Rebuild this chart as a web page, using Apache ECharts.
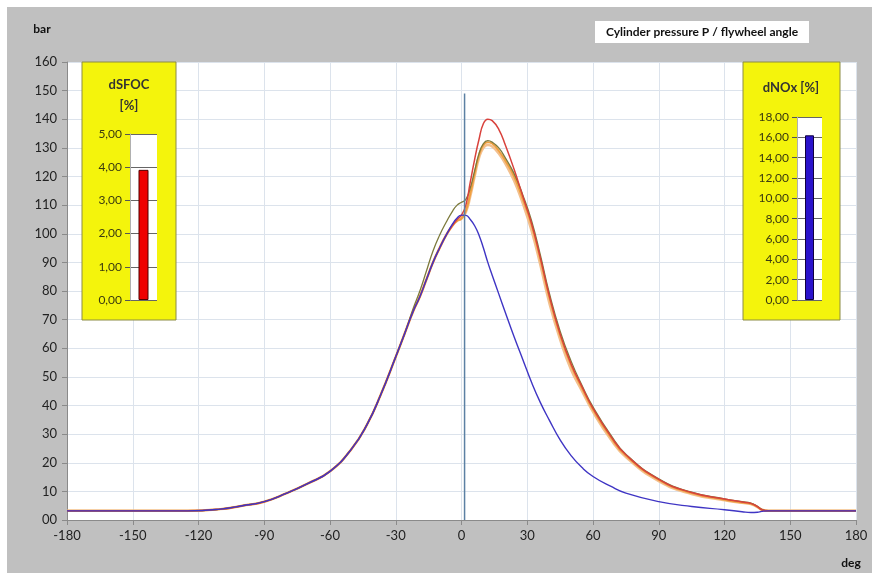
<!DOCTYPE html>
<html lang="en">
  <head>
    <meta charset="UTF-8" />
    <title>Cylinder pressure P / flywheel angle</title>
    <script src="https://cdn.jsdelivr.net/npm/echarts@6/dist/echarts.min.js"></script>
    <style>
      body {
        margin: 0;
        background-color: #ffffff;
      }
      #bg {
        position: absolute;
        left: 7px;
        top: 7px;
        width: 865px;
        height: 566px;
        background-color: #c0c0c0;
      }
      #chart {
        position: absolute;
        left: 0;
        top: 0;
        width: 879px;
        height: 580px;
      }
    </style>
  </head>
  <body>
    <div id="bg"></div>
    <div id="chart"></div>
    <script>
      // crank angles (deg) shared by all pressure curves
      var angles = [-180, -150, -125, -110, -100, -90, -80, -70, -60, -50, -43, -37, -30, -26, -22,
        -19, -16, -13, -10, -7, -4, -2, 0, 2, 4, 6, 8, 10, 12, 14, 17, 20, 24, 28, 32, 36, 40,
        45, 50, 55, 60, 68, 75, 90, 105, 120, 128, 132, 135, 137, 140, 160, 180];

      // pressure curves (bar)
      var pOlive = [3.2, 3.2, 3.2, 3.8, 5.0, 6.4, 9.3, 12.8, 17, 25, 33.5, 43.5, 57, 65, 74,
        80, 87, 94, 99.5, 104, 108, 110, 111, 112, 116, 122, 128, 131.5, 132.5, 132, 130, 126.5, 121, 113.5, 104.5, 92.5, 79.5,
        66, 55.5, 47, 39.5, 29.8, 23, 14.4, 9.7, 7.4, 6.4, 5.9, 4.8, 3.7, 3.2, 3.2, 3.2];
      var pOrange = [3.2, 3.2, 3.2, 3.8, 5.0, 6.4, 9.3, 12.8, 17, 25, 33.5, 43.5, 57, 65, 73,
        78, 84, 90, 95, 99.5, 103, 104.5, 105.3, 108, 114, 121, 127.5, 131, 132, 131.5, 129, 125.5, 120, 112, 103, 91, 78,
        64.5, 54, 46, 38.6, 29, 22.5, 14, 9.4, 7.1, 6.1, 5.7, 4.6, 3.6, 3.2, 3.2, 3.2];
      var pTan = [3.2, 3.2, 3.2, 3.8, 5.0, 6.4, 9.3, 12.8, 17, 25, 33.5, 43.5, 57, 65, 73,
        78, 84, 90, 95, 99.5, 103, 104.5, 105.3, 107.5, 113, 120, 126.5, 130, 131, 130.5, 128, 124.5, 118.5, 110.5, 101, 89, 76,
        63, 52.5, 45, 37.8, 28.3, 22, 13.6, 9.1, 6.9, 6.0, 5.6, 4.5, 3.6, 3.2, 3.2, 3.2];
      var pRed = [3.2, 3.2, 3.2, 3.8, 5.0, 6.4, 9.3, 12.8, 17, 25, 33.5, 43.5, 57, 65, 73,
        78, 84, 90, 95, 99.5, 103, 105, 106.5, 110, 118, 126, 133, 138.5, 140, 139.5, 136.5, 131, 122.5, 113, 103.5, 91.5, 78.5,
        65, 54.5, 46.5, 39, 29.4, 22.8, 14.2, 9.6, 7.3, 6.3, 5.8, 4.7, 3.6, 3.2, 3.2, 3.2];
      var pBlue = [3.2, 3.2, 3.2, 3.8, 5.0, 6.4, 9.3, 12.8, 17, 25, 33.5, 43.5, 57, 65, 73,
        78, 84, 90, 95, 99.5, 103.5, 105.5, 106.5, 106.4, 105, 102.8, 99.5, 95, 90, 85.5, 79, 72.5, 64, 56, 48, 41, 35,
        28, 22.5, 18.3, 15.2, 11.8, 9.4, 6.4, 4.7, 3.6, 2.9, 2.6, 2.7, 3.0, 3.2, 3.2, 3.2];

      // TDC marker line
      var tdcX = [1.4, 1.4];
      var tdcY = [0, 149];

      // gauges
      var sfocCat = ["dSFOC"];
      var sfocVal = [3.92];
      var noxCat = ["dNOx"];
      var noxVal = [16.2];

      var font = "Lato, 'Open Sans', sans-serif";

      function pairs(xs, ys) {
        return xs.map(function (x, i) {
          return [x, ys[i]];
        });
      }

      function comma(v) {
        return v.toFixed(2).replace(".", ",");
      }

      function curve(name, vals, color, width, z) {
        return {
          name: name,
          type: "line",
          data: pairs(angles, vals),
          showSymbol: false,
          smooth: 0.5,
          lineStyle: { color: color, width: width },
          z: z,
        };
      }

      const chart = echarts.init(document.getElementById("chart"));

      const options = {
        animation: false,
        textStyle: { fontFamily: font },
        grid: [
          { left: 67, top: 62, width: 789, height: 458, show: true, backgroundColor: "#ffffff", borderWidth: 0 },
          { left: 130, top: 134, width: 27, height: 166, show: true, backgroundColor: "#ffffff", borderWidth: 0, z: 6 },
          { left: 797, top: 117, width: 25, height: 183, show: true, backgroundColor: "#ffffff", borderWidth: 0, z: 6 },
        ],
        xAxis: [
          {
            type: "value",
            min: -180,
            max: 180,
            interval: 30,
            axisLine: { onZero: false, lineStyle: { color: "#8a8a8a" } },
            axisTick: { show: true, length: 5, lineStyle: { color: "#8a8a8a" } },
            axisLabel: { color: "#222", fontSize: 13, margin: 9 },
            splitLine: { lineStyle: { color: "#dce3ec" } },
          },
          {
            type: "category",
            gridIndex: 1,
            data: sfocCat,
            axisLine: { show: false },
            axisTick: { show: false },
            axisLabel: { show: false },
            z: 7,
          },
          {
            type: "category",
            gridIndex: 2,
            data: noxCat,
            axisLine: { show: false },
            axisTick: { show: false },
            axisLabel: { show: false },
            z: 7,
          },
        ],
        yAxis: [
          {
            type: "value",
            min: 0,
            max: 160,
            interval: 10,
            axisLine: { show: true, onZero: false, lineStyle: { color: "#8a8a8a" } },
            axisTick: { show: true, length: 5, lineStyle: { color: "#8a8a8a" } },
            axisLabel: {
              color: "#222",
              fontSize: 13,
              margin: 10,
              formatter: function (v) {
                return v === 0 ? "00" : v;
              },
            },
            splitLine: { lineStyle: { color: "#dce3ec" } },
          },
          {
            type: "value",
            gridIndex: 1,
            min: 0,
            max: 5,
            interval: 1,
            axisLine: { show: true, onZero: false, lineStyle: { color: "#b0b0b0" } },
            axisTick: { show: true, length: 5, lineStyle: { color: "#555" } },
            axisLabel: { color: "#3a3a10", fontSize: 12, margin: 8, formatter: comma },
            splitLine: { lineStyle: { color: "#666" } },
            z: 7,
          },
          {
            type: "value",
            gridIndex: 2,
            min: 0,
            max: 18,
            interval: 2,
            axisLine: { show: true, onZero: false, lineStyle: { color: "#b0b0b0" } },
            axisTick: { show: true, length: 5, lineStyle: { color: "#555" } },
            axisLabel: { color: "#3a3a10", fontSize: 12, margin: 8, formatter: comma },
            splitLine: { lineStyle: { color: "#666" } },
            z: 7,
          },
        ],
        series: [
          curve("tan", pTan, "#f3c08e", 2.5, 2),
          curve("orange", pOrange, "#f0a040", 2, 3),
          curve("olive", pOlive, "#7d7a3c", 1.3, 4),
          curve("red", pRed, "#d9423c", 1.5, 5),
          curve("blue", pBlue, "#3f35c4", 1.4, 6),
          {
            name: "TDC",
            type: "line",
            data: pairs(tdcX, tdcY),
            showSymbol: false,
            lineStyle: { color: "#5b80a3", width: 1.5 },
            z: 7,
          },
          {
            type: "bar",
            xAxisIndex: 1,
            yAxisIndex: 1,
            data: sfocVal,
            barWidth: 10,
            itemStyle: { color: "#ee0000", borderColor: "#500000", borderWidth: 1 },
            z: 8,
          },
          {
            type: "bar",
            xAxisIndex: 2,
            yAxisIndex: 2,
            data: noxVal,
            barWidth: 9,
            itemStyle: { color: "#2a12cc", borderColor: "#100040", borderWidth: 1 },
            z: 8,
          },
        ],
        graphic: [
          {
            type: "rect",
            shape: { x: 82, y: 62, width: 94, height: 258 },
            style: { fill: "#f4f40c", stroke: "#8c8c44", lineWidth: 1 },
            z: 5,
          },
          {
            type: "rect",
            shape: { x: 743, y: 62, width: 97, height: 258 },
            style: { fill: "#f4f40c", stroke: "#8c8c44", lineWidth: 1 },
            z: 5,
          },
          {
            type: "text",
            x: 129,
            y: 85,
            z: 9,
            style: { text: "dSFOC", fill: "#333", font: "bold 13px " + font, align: "center", verticalAlign: "middle" },
          },
          {
            type: "text",
            x: 129,
            y: 106,
            z: 9,
            style: { text: "[%]", fill: "#333", font: "bold 13px " + font, align: "center", verticalAlign: "middle" },
          },
          {
            type: "text",
            x: 791,
            y: 88,
            z: 9,
            style: { text: "dNOx [%]", fill: "#333", font: "bold 13px " + font, align: "center", verticalAlign: "middle" },
          },
          {
            type: "rect",
            shape: { x: 595, y: 21, width: 214, height: 22 },
            style: { fill: "#ffffff" },
            z: 5,
          },
          {
            type: "text",
            x: 702,
            y: 32,
            z: 9,
            style: { text: "Cylinder pressure P / flywheel angle", fill: "#111", font: "bold 12px " + font, align: "center", verticalAlign: "middle" },
          },
          {
            type: "text",
            x: 42,
            y: 29,
            z: 9,
            style: { text: "bar", fill: "#111", font: "bold 12px " + font, align: "center", verticalAlign: "middle" },
          },
          {
            type: "text",
            x: 851,
            y: 563,
            z: 9,
            style: { text: "deg", fill: "#111", font: "bold 12px " + font, align: "center", verticalAlign: "middle" },
          },
        ],
      };

      chart.setOption(options);
    </script>
  </body>
</html>
